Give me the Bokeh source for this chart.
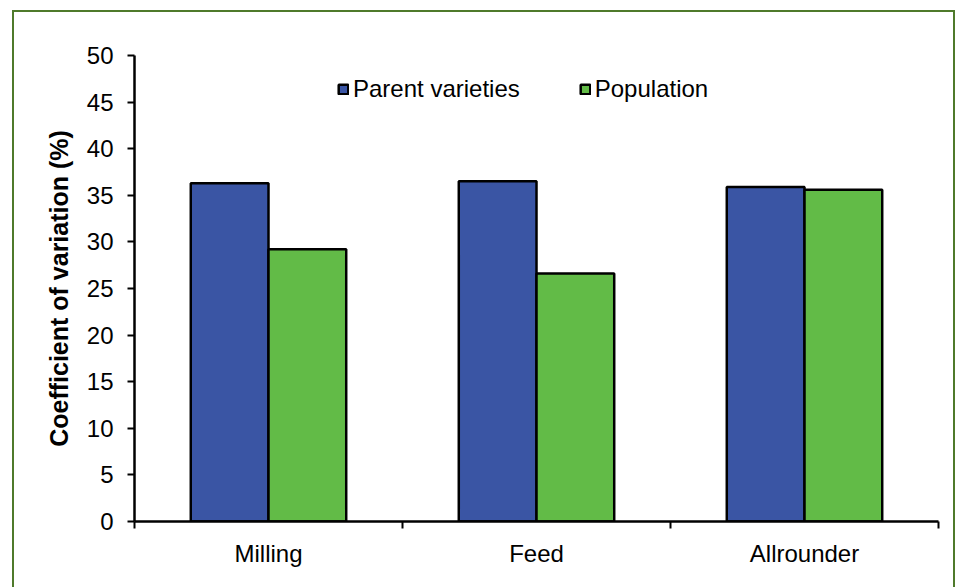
from bokeh.plotting import figure
from bokeh.models import ColumnDataSource, FixedTicker, Legend, LegendItem, Range1d
from bokeh.embed import file_html
from bokeh.resources import INLINE

categories = ["Milling", "Feed", "Allrounder"]
parent_varieties = [36.3, 36.5, 35.9]
population = [29.2, 26.6, 35.6]
y_ticks = [0, 5, 10, 15, 20, 25, 30, 35, 40, 45, 50]

FONT = "Liberation Sans"
BLUE = "#3A55A4"
GREEN = "#62BB47"

centers = [i + 0.5 for i in range(len(categories))]
src = ColumnDataSource(dict(
    x_p=[c - 0.145 for c in centers],
    x_q=[c + 0.145 for c in centers],
    parent=parent_varieties,
    pop=population,
))

p = figure(width=943, height=580, output_backend="svg", toolbar_location=None,
           x_range=Range1d(0, len(categories)), y_range=Range1d(0, 50),
           min_border_left=120, min_border_right=19, min_border_top=43, min_border_bottom=71)
p.margin = (10, 0, 0, 12)
p.styles = {"border": "2px solid #4F7A2B"}
p.outline_line_color = None
p.xgrid.visible = False
p.ygrid.visible = False
p.background_fill_color = "white"
p.border_fill_color = "white"

r1 = p.vbar(x="x_p", top="parent", width=0.29, source=src, fill_color=BLUE,
            line_color="black", line_width=2.5)
r2 = p.vbar(x="x_q", top="pop", width=0.29, source=src, fill_color=GREEN,
            line_color="black", line_width=2.5)

# x axis
xa = p.xaxis[0]
xa.ticker = FixedTicker(ticks=centers, minor_ticks=list(range(len(categories) + 1)))
xa.major_label_overrides = {c: n for c, n in zip(centers, categories)}
xa.major_tick_out = 0
xa.major_tick_in = 0
xa.minor_tick_out = 7
xa.minor_tick_in = 0
xa.minor_tick_line_color = "black"
xa.minor_tick_line_width = 2
xa.axis_line_width = 2.5
xa.axis_line_color = "black"
xa.major_label_text_font = FONT
xa.major_label_text_font_size = "24px"
xa.major_label_text_color = "black"
xa.major_label_standoff = 11

# y axis
ya = p.yaxis[0]
ya.ticker = FixedTicker(ticks=y_ticks)
ya.minor_tick_line_color = None
ya.major_tick_out = 7
ya.major_tick_in = 0
ya.major_tick_line_width = 2
ya.major_tick_line_color = "black"
ya.axis_line_width = 2.5
ya.axis_line_color = "black"
ya.major_label_text_font = FONT
ya.major_label_text_font_size = "24px"
ya.major_label_text_color = "black"
ya.major_label_standoff = 14
ya.axis_label = "Coefficient of variation (%)"
ya.axis_label_text_font = FONT
ya.axis_label_text_font_size = "25px"
ya.axis_label_text_font_style = "bold"
ya.axis_label_text_color = "black"
ya.axis_label_standoff = 11

legend = Legend(items=[LegendItem(label="Parent varieties", renderers=[r1]),
                       LegendItem(label="Population", renderers=[r2])],
                location=(203, 418), orientation="horizontal",
                glyph_width=12, glyph_height=12, label_height=12,
                label_standoff=4, spacing=59, padding=0, margin=0,
                border_line_color=None, background_fill_alpha=0,
                label_text_font=FONT, label_text_font_size="24px",
                label_text_color="black")
p.add_layout(legend)

open("out.html", "w").write(file_html(p, INLINE))
